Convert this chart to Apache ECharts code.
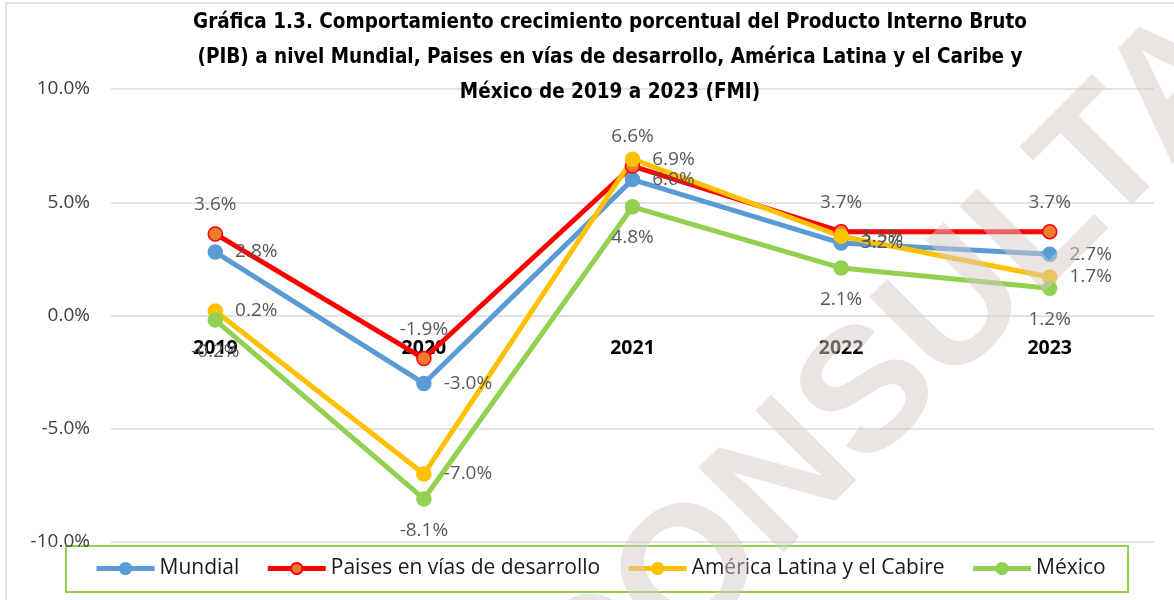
<!DOCTYPE html>
<html>
<head>
<meta charset="utf-8">
<script src="https://cdn.jsdelivr.net/npm/echarts@6/dist/echarts.min.js"></script>
<style>html,body{margin:0;padding:0;background:#fff}#c{width:1174px;height:600px}</style>
</head>
<body>
<div id="c"></div>
<script>
const titleLines = [
  'Gráfica 1.3. Comportamiento crecimiento porcentual del Producto Interno Bruto',
  '(PIB) a nivel Mundial, Paises en vías de desarrollo, América Latina y el Caribe y',
  'México de 2019 a 2023 (FMI)'
];
const years = ['2019', '2020', '2021', '2022', '2023'];
const seriesNames = ['Mundial', 'Paises en vías de desarrollo', 'América Latina y el Cabire', 'México'];
const mundial = [2.8, -3.0, 6.0, 3.2, 2.7];
const paises = [3.6, -1.9, 6.6, 3.7, 3.7];
const americaLatina = [0.2, -7.0, 6.9, 3.5, 1.7];
const mexico = [-0.2, -8.1, 4.8, 2.1, 1.2];
const yTicks = [-10, -5, 0, 5, 10];
const watermark = 'CONSULTA';

const W = 1174, H = 600;
const gridTop = 89, gridBottom = 58;
const yMin = yTicks[0], yMax = yTicks[yTicks.length - 1];
const gridH = H - gridTop - gridBottom;
// move the category axis up to the zero line
const xOffset = -gridH * (0 - yMin) / (yMax - yMin);

const labelFont = '"Open Sans", "Noto Sans", sans-serif';
function mkSeries(name, data, color, fill, pos, dist) {
  return {
    name: name, type: 'line', data: data,
    symbol: 'circle', symbolSize: 14,
    lineStyle: {color: color, width: 5},
    itemStyle: {color: fill, borderColor: color, borderWidth: 1.5},
    label: {
      show: true, position: pos, distance: dist,
      formatter: p => p.value.toFixed(1) + '%',
      color: '#595959', fontSize: 19, fontFamily: labelFont
    },
    emphasis: {disabled: true},
    animation: false
  };
}

const chart = echarts.init(document.getElementById('c'), null, {renderer: 'canvas'});
chart.setOption({
  backgroundColor: '#fff',
  animation: false,
  grid: {left: 111, right: 20, top: gridTop, bottom: gridBottom},
  xAxis: {
    type: 'category', data: years, boundaryGap: true,
    offset: xOffset,
    axisLine: {show: false, onZero: false},
    axisTick: {show: false},
    axisLabel: {color: '#000', fontWeight: 'bold', fontSize: 19.5, fontFamily: labelFont, margin: 23}
  },
  yAxis: {
    type: 'value', min: yMin, max: yMax, interval: 5,
    axisLine: {show: false}, axisTick: {show: false},
    splitLine: {lineStyle: {color: '#D9D9D9', width: 1.5}},
    axisLabel: {color: '#404040', fontSize: 19, fontFamily: labelFont, margin: 21,
      formatter: v => v.toFixed(1) + '%'}
  },
  legend: {
    left: 89, top: 553, itemWidth: 58, itemHeight: 14, itemGap: 26,
    data: seriesNames,
    lineStyle: {width: 5},
    textStyle: {color: '#1a1a1a', fontSize: 21, fontFamily: labelFont}
  },
  series: [
    mkSeries(seriesNames[0], mundial, '#5B9BD5', '#5B9BD5', 'right', 12),
    mkSeries(seriesNames[1], paises, '#FF0000', '#ED7D31', 'top', 12),
    mkSeries(seriesNames[2], americaLatina, '#FFC000', '#FFC000', 'right', 12),
    mkSeries(seriesNames[3], mexico, '#92D050', '#92D050', 'bottom', 14)
  ],
  graphic: [
    {type: 'rect', silent: true, z: -1, shape: {x: 6, y: 3, width: 1200, height: 640},
      style: {fill: 'none', stroke: '#D9D9D9', lineWidth: 1.5}},
    {type: 'rect', silent: true, shape: {x: 66, y: 546, width: 1062, height: 46},
      style: {fill: 'none', stroke: '#92D050', lineWidth: 2}},
    {type: 'text', silent: true, x: 610, y: 5, z: 10,
      style: {text: titleLines.join('\n'), textAlign: 'center', textVerticalAlign: 'top',
        fill: '#000', lineHeight: 35,
        font: 'bold 20.5px "Liberation Sans Narrow", "DejaVu Sans Condensed", "Noto Sans", sans-serif'}},
    {type: 'text', silent: true, x: 890, y: 378, rotation: 45 * Math.PI / 180, z: 100,
      style: {text: watermark, textAlign: 'center', textVerticalAlign: 'middle',
        fill: 'rgba(209,203,197,0.5)',
        font: 'bold 175px "Liberation Sans", Arial, sans-serif'}}
  ]
});
</script>
</body>
</html>
